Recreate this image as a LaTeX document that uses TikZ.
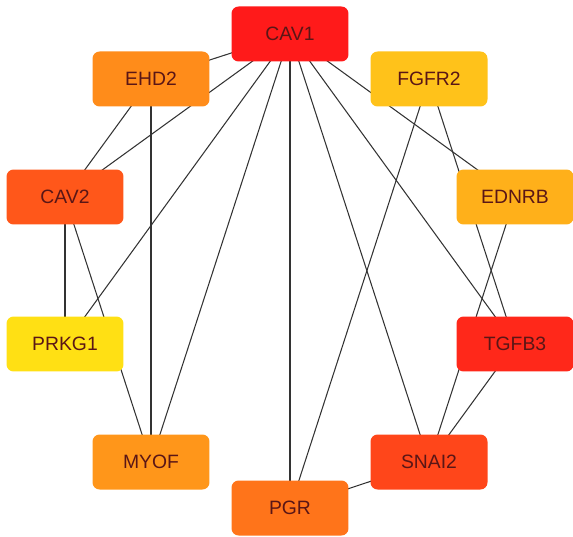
\documentclass[tikz,border=0pt]{standalone}
\usepackage{fontspec}
\setmainfont{Liberation Sans}
\usepackage{tikz}
\usetikzlibrary{backgrounds}

\definecolor{cavred}{RGB}{255,26,26}
\definecolor{tgfred}{RGB}{255,40,26}
\definecolor{snaired}{RGB}{255,70,26}
\definecolor{cavtwo}{RGB}{255,87,26}
\definecolor{pgrorange}{RGB}{255,116,26}
\definecolor{ehdorange}{RGB}{255,140,26}
\definecolor{myoforange}{RGB}{255,150,26}
\definecolor{ednrbgold}{RGB}{255,176,26}
\definecolor{fgfrgold}{RGB}{255,194,26}
\definecolor{prkgyellow}{RGB}{255,224,20}
\definecolor{genetext}{RGB}{90,22,22}

\begin{document}
\begin{tikzpicture}[x=0.02cm, y=-0.02cm,
	gene/.style={rounded corners=4pt, minimum width=2.34cm, minimum height=1.1cm,
		text=genetext, font=\fontsize{11}{13}\selectfont},
	link/.style={draw=black!80, line width=0.6pt}]
						\useasboundingbox (0, 0) rectangle (573, 536);
						\node[gene, fill = cavred] (cav1) at (290, 34) {CAV1};
						\node[gene, fill = ehdorange] (ehd2) at (151, 79) {EHD2};
						\node[gene, fill = fgfrgold] (fgfr2) at (429, 79) {FGFR2};
						\node[gene, fill = cavtwo] (cav2) at (65, 197) {CAV2};
						\node[gene, fill = ednrbgold] (ednrb) at (515, 197) {EDNRB};
						\node[gene, fill = prkgyellow] (prkg1) at (65, 344) {PRKG1};
						\node[gene, fill = tgfred] (tgfb3) at (515, 344) {TGFB3};
						\node[gene, fill = myoforange] (myof) at (151, 462) {MYOF};
						\node[gene, fill = snaired] (snai2) at (429, 462) {SNAI2};
						\node[gene, fill = pgrorange] (pgr) at (290, 508) {PGR};
						\begin{scope}[on background layer]
							\foreach \b in {ehd2, cav2, prkg1, myof, pgr, snai2, tgfb3, ednrb}
								\draw[link] (cav1.center) -- (\b.center);
							\draw[link] (ehd2.center) -- (cav2.center);
							\draw[link] (ehd2.center) -- (myof.center);
							\draw[link] (cav2.center) -- (prkg1.center);
							\draw[link] (cav2.center) -- (myof.center);
							\draw[link] (fgfr2.center) -- (pgr.center);
							\draw[link] (fgfr2.center) -- (tgfb3.center);
							\draw[link] (ednrb.center) -- (snai2.center);
							\draw[link] (tgfb3.center) -- (snai2.center);
							\draw[link] (snai2.center) -- (pgr.center);
						\end{scope}
					\end{tikzpicture}
\end{document}
